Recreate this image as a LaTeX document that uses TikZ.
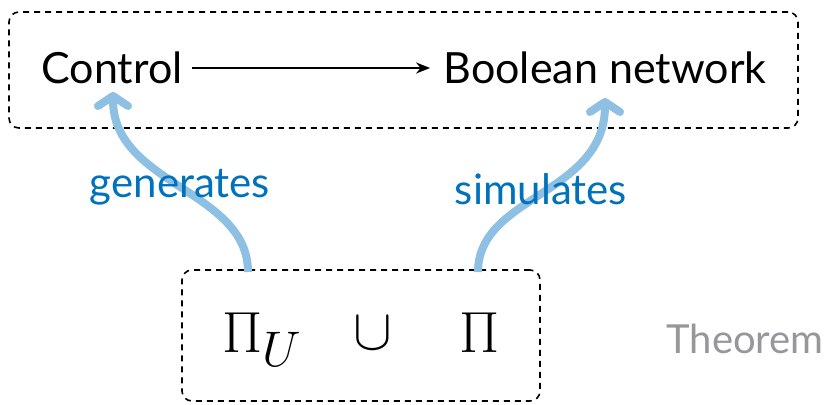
\RequirePackage{fix-cm}
\documentclass[tikz,border=0pt]{standalone}
\usepackage{fontspec}
\setmainfont{Lato}
\usetikzlibrary{arrows.meta}
\definecolor{lightblue}{RGB}{142,192,228}
\definecolor{labelblue}{RGB}{0,114,189}
\definecolor{theoremgray}{RGB}{150,150,155}
\tikzset{
  dashbox/.style={draw,dashed,dash pattern=on 6pt off 5pt,line width=1.6pt,rounded corners=10pt,inner sep=0pt},
  word/.style={font=\fontsize{43}{48}\selectfont},
  bluelabel/.style={text=labelblue,font=\fontsize{42}{46}\selectfont},
  usearrow/.style={lightblue,line width=8pt,-{Straight Barb[round,length=10pt,width=30pt]}},
  mathword/.style={font=\fontsize{58}{62}\selectfont}
}
\begin{document}
\begin{tikzpicture}[x=1pt,y=-1pt]
		\useasboundingbox (0,0) rectangle (829,404);
		\node[dashbox,minimum width=789pt,minimum height=116pt] (topbox) at (403.5,70) {};
		\node[dashbox,minimum width=358pt,minimum height=131pt] (botbox) at (361,335.5) {};
		
		\node[word] (control) at (112,68) {Control};
		\node[word] (boolnet) at (605,68) {Boolean network};
		\draw[line width=1.8pt,shorten <=6pt,shorten >=10pt,-{Stealth[length=14pt,width=11pt]}] (control) -- (boolnet);
		
		\node[mathword] (piu) at (262,340) {$\Pi_{\mbox{\fontsize{50}{52}\selectfont$U$}}$};
		\node[mathword] (cup) at (373,333) {$\cup$};
		\node[mathword] (pi) at (480,333) {$\Pi$};
		\node[font=\fontsize{40}{44}\selectfont,text=theoremgray] (theorem) at (745,339) {Theorem};
		
		\coordinate (gstart) at (248,272);
		\coordinate (gend) at (113,92);
		\coordinate (sstart) at (478,272);
		\coordinate (send) at (605,98);
		\draw[usearrow] (gstart) .. controls (248,190) and (113,185) .. (gend);%generates
		\draw[usearrow] (sstart) .. controls (478,195) and (605,195) .. (send);%simulates
		
		\node[bluelabel] (gen) at (180,187) {generates};
		\node[bluelabel] (sim) at (541,189) {simulates};
	\end{tikzpicture}
\end{document}
